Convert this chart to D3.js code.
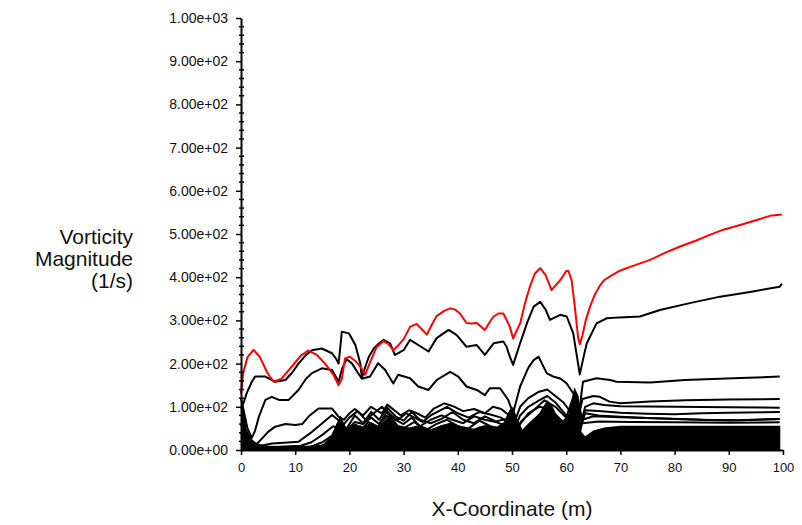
<!DOCTYPE html>
<html>
<head>
<meta charset="utf-8">
<script src="https://cdn.jsdelivr.net/npm/d3@7"></script>
<style>
  html, body { margin: 0; padding: 0; background: #fff; }
  svg { display: block; font-family: "Liberation Sans", Arial, sans-serif; }
</style>
</head>
<body>
<svg id="chart" width="802" height="525"></svg>
<script>
// Vorticity magnitude along x for a family of sampling lines.
// Each series is a list of [x (m), vorticity (1/s)].
const xTicks = [0, 10, 20, 30, 40, 50, 60, 70, 80, 90, 100];
const yTicks = [0, 100, 200, 300, 400, 500, 600, 700, 800, 900, 1000];
const yMinorStep = 20;

const xLabel = "X-Coordinate (m)";
const yLabelLines = ["Vorticity", "Magnitude", "(1/s)"];

// highest line (red)
const topLine = [[0,130],[0.4,178],[1.2,215],[2.3,232],[3.5,215],[4.8,180],[6.0,158],[7.5,165],[9.5,195],[11.0,218],[12.4,230],[14,220],[15.5,200],[17,175],[18,150],[18.6,165],[19.2,212],[20.1,216],[21.2,205],[22.3,188],[22.9,174],[23.8,202],[25,238],[26.3,252],[27.2,245],[28.1,231],[29,242],[30,256],[31.2,285],[32.4,292],[33.3,280],[34.3,267],[35.2,290],[36.1,310],[37.5,322],[38.6,328],[39.5,325],[40.4,316],[41.6,294],[42.5,293],[43.5,294],[45,278],[46,298],[46.6,309],[47.5,316],[48.4,316],[49,301],[49.6,285],[50.2,258],[51.5,293],[52.4,340],[53.3,378],[54.2,408],[55.2,421],[56.2,405],[57.3,370],[58.1,382],[58.9,393],[60.0,414],[60.4,415],[61.0,393],[61.6,330],[62.2,260],[62.5,245],[63.0,265],[63.6,300],[64.4,332],[65.3,360],[66.2,380],[67,393],[68.1,402],[69.9,415],[71.8,424],[75.5,440],[78,455],[81,471],[84,485],[86.5,498],[89,510],[92.1,521],[95,532],[97.6,542],[99.8,545]];

const line1 = [[0,95],[0.5,110],[1,130],[2,158],[2.6,170],[4.5,170],[6.3,158],[8.2,162],[9.5,180],[10.6,200],[12,220],[13.1,231],[14.9,235],[16.8,224],[17.6,210],[18,200],[18.3,235],[18.6,274],[19.9,270],[21.1,243],[22,201],[22.3,167],[23,195],[23.6,216],[24.5,235],[25.3,245],[26.3,255],[27.5,247],[28.4,220],[30,231],[31.2,255],[32.7,243],[34.6,228],[36.1,259],[38.3,278],[39.8,266],[41.6,239],[43.5,243],[45,220],[46.6,247],[48.4,251],[49,239],[49.6,216],[50.2,197],[51.5,247],[52.8,295],[54,332],[55.2,343],[56.2,325],[57,301],[58.9,313],[60.1,309],[61.3,270],[62,215],[62.5,175],[63.2,215],[63.8,247],[65.6,293],[67.5,305],[69.9,307],[73.6,309],[77.3,324],[82.8,340],[88.4,355],[93.9,366],[99.4,378],[99.8,385]];

const line2 = [[0,120],[0.6,85],[1.2,50],[2,28],[2.6,45],[3.3,77],[4,100],[4.5,116],[5.7,123],[7,116],[8.8,116],[10.6,139],[12,165],[13.1,178],[14.9,189],[16.8,185],[18,158],[18.7,190],[19.5,210],[20.5,200],[21.5,180],[22.3,165],[23.8,170],[25.3,201],[26.6,185],[28.1,154],[29,174],[31.2,166],[32.7,147],[34.6,139],[36.1,162],[38.6,181],[40.1,170],[41.6,147],[43.5,139],[45,127],[45.9,143],[47.8,143],[49.3,116],[50.2,85],[51.5,147],[53,190],[54,208],[54.9,216],[56.4,178],[57.6,170],[59,165],[60.1,154],[61.3,131],[62.5,100],[63.1,158],[65.6,166],[68.1,162],[69.3,158],[75.5,156],[81.9,162],[90.8,166],[99.4,170]];

const line3 = [[0,60],[1,30],[2,12],[3,15],[3.9,27],[5,42],[6.3,54],[8.2,60],[10,58],[11.3,60],[12.5,78],[14.3,96],[16.8,96],[18,77],[19,70],[20,85],[21,95],[22.5,80],[24,100],[25,92],[26,85],[27,105],[28,95],[29.5,80],[31,92],[32.5,85],[34,75],[35.5,95],[37.5,108],[39,102],[41,90],[43,95],[45,85],[46.5,100],[48,95],[49.5,80],[50.2,55],[51.5,100],[53,120],[55,135],[56.5,140],[58,125],[59.5,110],[61,85],[62,60],[63,118],[65,125],[66.2,123],[68,112],[70,108],[75.5,112],[82,115],[90,117],[99.4,118]];

const line4 = [[0,40],[1,15],[3,8],[5.7,15],[8,17],[10.6,19],[13.1,42],[15,62],[16.8,81],[18,69],[19,60],[20,75],[21.5,90],[23,70],[24.5,85],[26,100],[27.5,80],[29,70],[30.5,85],[32,75],[33.5,65],[35,80],[36.5,90],[38,100],[40,85],[42,75],[44,88],[46,82],[48,75],[49.5,60],[50.2,40],[51.5,80],[53,100],[55,115],[56.5,125],[58,110],[60,80],[61.5,70],[62.5,50],[63.5,100],[65,108],[67,104],[70,101],[80,100],[90,99],[99.4,98]];

const line5 = [[0,30],[2,6],[5,6],[8,8],[11,10],[13,18],[15,35],[17,55],[18,50],[19.5,45],[21,65],[22.5,60],[24,75],[25.5,60],[27,90],[28.5,70],[30,60],[31.5,75],[33,55],[35,70],[37,80],[39,70],[41,62],[43,78],[45,70],[47,65],[49,55],[50.2,30],[51.5,60],[53,85],[55,100],[57,95],[59,70],[61,50],[62.5,40],[63.5,92],[66,90],[70,86],[75,84],[80,83],[85,85],[90,86],[99.4,88]];

const line6 = [[0,20],[3,5],[8,5],[13,8],[15,18],[17,35],[18.5,40],[20,55],[22,45],[23.5,65],[25,50],[27,80],[28.5,55],[30,50],[32,65],[34,45],[36,60],[38,70],[40,55],[42,50],[44,68],[46,55],[48,50],[50.2,20],[52,45],[54,70],[56,85],[58,75],[60,55],[62,30],[63.5,85],[66,80],[70,77],[75,74],[80,72],[85,70],[90,68],[95,70],[99.4,72]];

const line7 = [[0,15],[4,4],[10,5],[14,6],[16,15],[18,45],[20,35],[22,55],[24,40],[26,60],[28,45],[30,40],[32,50],[34,38],[36,48],[38,58],[40,42],[42,38],[44,52],[46,45],[48,42],[50.2,15],[52,35],[54,55],[56,75],[58,62],[60,45],[62,120],[63,70],[65,78],[70,76],[78,73],[85,70],[92,69],[99.4,72]];

const line8 = [[0,8],[5,3],[15,4],[17,20],[19,30],[21,45],[23,35],[25,48],[27,55],[29,40],[31,45],[33,35],[35,40],[37,50],[39,45],[41,35],[43,45],[45,38],[47,48],[49,40],[50.2,10],[52,28],[54,45],[56,60],[58,50],[60,35],[62,100],[63,62],[66,66],[72,65],[80,64],[90,63],[99.4,64]];

const line9 = [[16,10],[18,60],[19.5,50],[21,80],[22.5,62],[24,88],[25.5,70],[27,98],[28.5,78],[30,68],[31.5,88],[33,70],[35,62],[37,72],[39,88],[41,70],[43,62],[45,78],[47,66],[49,72],[50.2,45],[52,70],[54,92],[56,115],[58,100],[60,75],[61.5,130]];

// near-wall lines lie so close together that they merge into a solid band
const nearWallBand = [[0,110],[0.5,100],[1,50],[2,25],[3,15],[5,10],[8,9],[12,9],[15,12],[16.5,30],[18.3,80],[19.5,50],[21,62],[22.5,52],[24,65],[25.5,55],[27.5,82],[29,58],[31,52],[33,58],[35,48],[37,58],[39,64],[41,52],[43,50],[45,58],[47,52],[48.5,65],[49.5,92],[50.2,100],[51,72],[52,45],[53,60],[55,85],[56.5,115],[57.5,100],[59,62],[60.5,85],[61.5,145],[62.3,125],[62.8,42],[63.5,32],[65,45],[67,52],[70,56],[80,56],[90,56],[99.5,56]];

const blackLines = [line1, line2, line3, line4, line5, line6, line7, line8, line9];

const svg = d3.select("#chart");
const x = d3.scaleLinear().domain([0, 100]).range([241, 783]);
const y = d3.scaleLinear().domain([0, 1000]).range([450, 18]);

// data
const area = d3.area().x(d => x(d[0])).y0(y(0)).y1(d => y(d[1]));
svg.append("path").datum(nearWallBand).attr("d", area).attr("fill", "#000");

const line = d3.line().x(d => x(d[0])).y(d => y(d[1]));
svg.append("g").selectAll("path").data(blackLines).join("path")
  .attr("d", line).attr("fill", "none").attr("stroke", "#000")
  .attr("stroke-width", 2).attr("stroke-linejoin", "round");
svg.append("path").datum(topLine).attr("d", line)
  .attr("fill", "none").attr("stroke", "#ff0000")
  .attr("stroke-width", 2).attr("stroke-linejoin", "round");

// axes
const fmt = v => v.toExponential(2).replace(/e([+-])(\d)$/, "e$10$2");

const yAxis = svg.append("g").attr("transform", "translate(241,0)")
  .call(d3.axisLeft(y).tickValues(yTicks).tickSize(5).tickSizeOuter(0).tickFormat(fmt).tickPadding(8));
const minor = d3.range(0, 1000 + 1, yMinorStep).filter(v => v % 100 !== 0);
yAxis.append("g").selectAll("line").data(minor).join("line")
  .attr("x1", -2).attr("x2", 3).attr("y1", d => y(d)).attr("y2", d => y(d))
  .attr("stroke", "#000").attr("stroke-width", 1.5);

const xAxis = svg.append("g").attr("transform", "translate(0,450)")
  .call(d3.axisBottom(x).tickValues(xTicks).tickSize(5).tickSizeOuter(0).tickPadding(8));

[yAxis, xAxis].forEach(g => {
  g.select(".domain").attr("stroke", "#000").attr("stroke-width", 2);
  g.selectAll(".tick line").attr("stroke", "#000").attr("stroke-width", 1.5);
  g.selectAll(".tick text").attr("fill", "#111").attr("font-size", 14)
    .attr("font-family", "Liberation Sans, Arial, sans-serif");
});
xAxis.selectAll(".tick text").attr("font-size", 13);

svg.append("text").attr("x", 512).attr("y", 516).attr("text-anchor", "middle")
  .attr("font-size", 21).attr("fill", "#111").text(xLabel);

svg.append("g").selectAll("text").data(yLabelLines).join("text")
  .attr("x", 133).attr("y", (d, i) => 244 + i * 22).attr("text-anchor", "end")
  .attr("font-size", 21).attr("fill", "#111").text(d => d);
</script>
</body>
</html>
